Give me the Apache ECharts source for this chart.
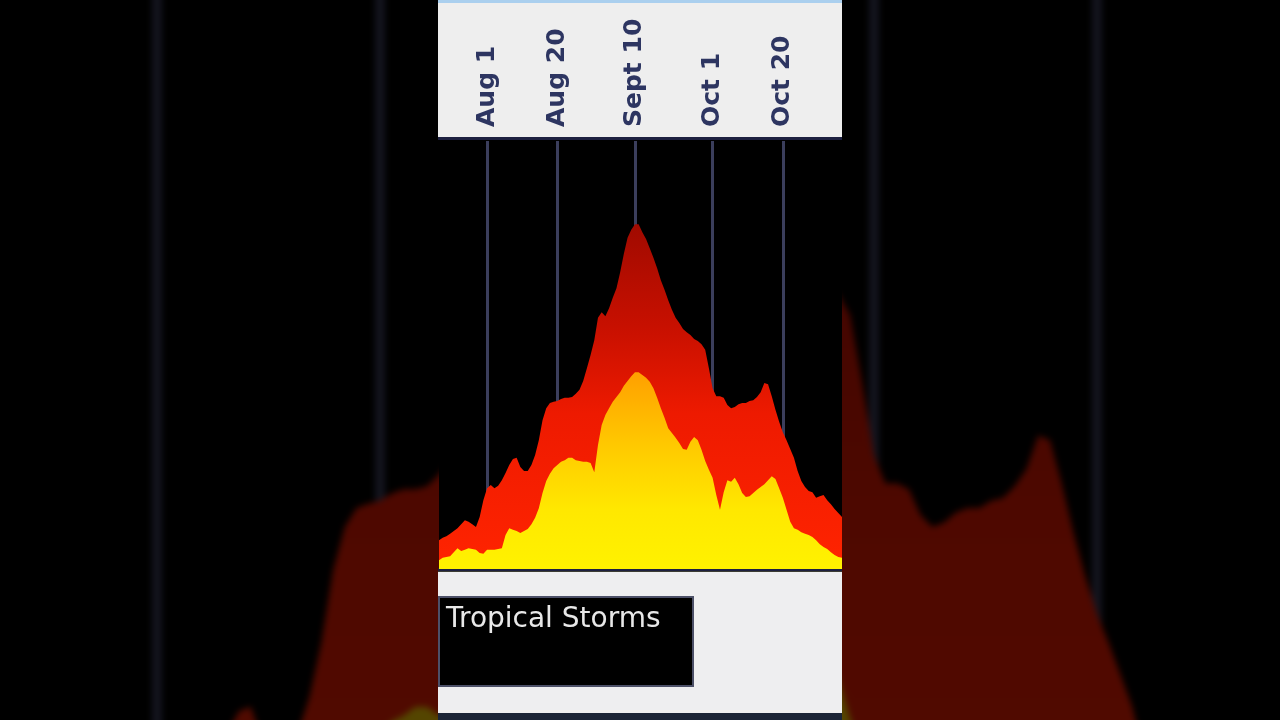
<!DOCTYPE html>
<html>
<head>
<meta charset="utf-8">
<script src="https://cdn.jsdelivr.net/npm/echarts@6/dist/echarts.min.js"></script>
<style>
html,body{margin:0;padding:0;background:#000;width:1280px;height:720px;overflow:hidden;position:relative}
#bg{position:absolute;left:4px;top:-442px;width:1281px;height:1552px;filter:brightness(0.33) blur(3px);}
#hdr{position:absolute;left:438px;top:0;width:404px;height:138px;background:#eeeeee;border-top:3px solid #aacfee;box-sizing:border-box;}
#rule{position:absolute;left:438px;top:137px;width:404px;height:6px;background:#000;border-top:3px solid #1d2040;box-sizing:border-box;}
#ftr{position:absolute;left:438px;top:569px;width:404px;height:144px;background:#eeeef0;border-top:3px solid #3c3c34;box-sizing:border-box;}
#ftr2{position:absolute;left:438px;top:713px;width:404px;height:7px;background:#1b2436;}
#main{position:absolute;left:438px;top:0;width:404px;height:720px;}
</style>
</head>
<body>
<div id="bg"></div>
<div id="hdr"></div>
<div id="rule"></div>
<div id="ftr"></div>
<div id="ftr2"></div>
<div id="main"></div>
<script>
// ---- data ----
const monthSpans = [['Jul', 19, 31], ['Aug', 1, 31], ['Sep', 1, 30], ['Oct', 1, 31], ['Nov', 1, 5]];
const categories = [];
monthSpans.forEach(function (m) { for (let d = m[1]; d <= m[2]; d++) categories.push(m[0] + ' ' + d); });

const tickDates = ['Aug 1', 'Aug 20', 'Sep 10', 'Oct 1', 'Oct 20'];
const tickLabels = ['Aug 1', 'Aug 20', 'Sept 10', 'Oct 1', 'Oct 20'];

const tropicalStorms = [
  7.2, 7.8, 8.2, 8.8, 9.5, 10.2, 11.2, 12.2, 11.8, 11.2,
  10.5, 13, 17.2, 20.2, 21, 20.2, 20.8, 22.2, 24, 26,
  27.5, 27.8, 25.5, 24.5, 24.5, 26, 28.5, 32.2, 37.2, 40.2,
  41.5, 41.8, 42, 42.5, 42.8, 42.8, 43, 43.8, 44.8, 47,
  50.2, 53.5, 57.2, 62.8, 64.2, 63.2, 65.2, 67.8, 70.2, 74.2,
  78.8, 82.8, 84.8, 86.2, 86.2, 84.2, 82.5, 80.2, 77.8, 75.2,
  72.2, 69.8, 67.2, 64.8, 62.8, 61.5, 60, 59.2, 58.5, 57.5,
  57, 56.2, 54.8, 50.2, 45.2, 43.2, 43.2, 42.8, 41, 40.2,
  40.5, 41.2, 41.5, 41.5, 42, 42.2, 43, 44.2, 46.5, 46.2,
  43.2, 39.8, 36.8, 34.2, 32.2, 30, 27.8, 24.5, 22, 20.5,
  19.5, 19.2, 17.8, 18.2, 18.5, 17.2, 16.2, 15, 14, 13
];
const hurricanes = [
  2.2, 2.8, 3, 3.2, 4.2, 5.2, 4.5, 4.8, 5.2, 5,
  4.8, 4, 3.8, 4.8, 4.8, 4.8, 5, 5.2, 8.5, 10.2,
  9.8, 9.5, 9, 9.5, 10, 11.2, 12.8, 15.2, 19, 22,
  23.8, 25.2, 26, 26.8, 27.2, 27.8, 27.8, 27.2, 27, 26.8,
  26.8, 26.5, 24.2, 31, 36, 38.5, 40.2, 41.8, 43, 44.2,
  45.8, 47, 48.2, 49.2, 49.2, 48.5, 47.8, 46.8, 45.2, 42.8,
  40.2, 37.8, 35.2, 34, 32.8, 31.5, 30, 29.8, 31.8, 33,
  32.2, 29.8, 27, 24.8, 22.8, 18.5, 14.8, 19.2, 22.2, 21.8,
  22.8, 21.2, 19, 18, 18.2, 19, 19.8, 20.5, 21.2, 22.2,
  23.2, 22.5, 20.2, 17.8, 14.8, 11.8, 10.2, 9.8, 9.2, 8.8,
  8.5, 8, 7.2, 6.2, 5.5, 5, 4.2, 3.5, 3, 2.8
];
const legendText = 'Tropical Storms';

// ---- helpers ----
function isTick(idx) { return tickDates.indexOf(categories[idx]) >= 0; }
function tickLabelFor(v) { const k = tickDates.indexOf(v); return k >= 0 ? tickLabels[k] : ''; }

const redFill = new echarts.graphic.LinearGradient(0, 0, 0, 1, [
  { offset: 0, color: '#a00a00' }, { offset: 0.3, color: '#c81000' },
  { offset: 0.55, color: '#ee1a00' }, { offset: 1, color: '#ff2400' }]);
const yellowFill = new echarts.graphic.LinearGradient(0, 0, 0, 1, [
  { offset: 0, color: '#ffa000' }, { offset: 0.4, color: '#ffcc00' },
  { offset: 0.7, color: '#ffe800' }, { offset: 1, color: '#fff200' }]);

function makeSeries() {
  return [
    { name: 'Tropical Storms', type: 'line', data: tropicalStorms, symbol: 'none',
      lineStyle: { width: 0, opacity: 0 }, areaStyle: { color: redFill, opacity: 1 }, z: 2 },
    { name: 'Hurricanes', type: 'line', data: hurricanes, symbol: 'none',
      lineStyle: { width: 0, opacity: 0 }, areaStyle: { color: yellowFill, opacity: 1 }, z: 3 }
  ];
}

// ---- main chart ----
const main = echarts.init(document.getElementById('main'), null, { renderer: 'canvas' });
main.setOption({
  animation: false,
  grid: { left: 1, right: 0, top: 141, height: 428, show: true, backgroundColor: '#000', borderWidth: 0 },
  xAxis: {
    type: 'category', position: 'top', boundaryGap: false, data: categories,
    axisLine: { show: true, lineStyle: { color: '#1d2040', width: 3 } },
    axisTick: { show: true, length: 8, interval: function (i) { return isTick(i); }, lineStyle: { color: '#2d3561', width: 2 } },
    axisLabel: { show: true, rotate: 90, margin: 14, interval: function (i) { return isTick(i); },
      formatter: tickLabelFor, color: '#2d3561', fontFamily: 'DejaVu Sans', fontWeight: 'bold', fontSize: 25 },
    splitLine: { show: true, interval: function (i) { return isTick(i); }, lineStyle: { color: '#3b3e5c', width: 3 } }
  },
  yAxis: { type: 'value', min: 0, max: 107, show: false },
  series: makeSeries(),
  graphic: [
    { type: 'rect', left: 0, top: 596, z: 100,
      shape: { width: 254, height: 89 }, style: { fill: '#000', stroke: '#4c5068', lineWidth: 2 } },
    { type: 'text', z: 101, x: 8, y: 620,
      style: { text: legendText, fill: '#e8e8e8', font: '28px "DejaVu Sans"', verticalAlign: 'middle', align: 'left' } }
  ]
});

// ---- blurred, darkened background copy ----
const bg = echarts.init(document.getElementById('bg'), null, { renderer: 'canvas' });
bg.setOption({
  animation: false,
  backgroundColor: '#000',
  grid: { left: 0, right: 0, top: 0, bottom: 0 },
  xAxis: {
    type: 'category', boundaryGap: false, data: categories,
    axisLine: { show: false }, axisTick: { show: false }, axisLabel: { show: false },
    splitLine: { show: true, interval: function (i) { return isTick(i); }, lineStyle: { color: '#3b3e5c', width: 10 } }
  },
  yAxis: { type: 'value', min: 0, max: 107, show: false },
  series: makeSeries()
});
</script>
</body>
</html>
